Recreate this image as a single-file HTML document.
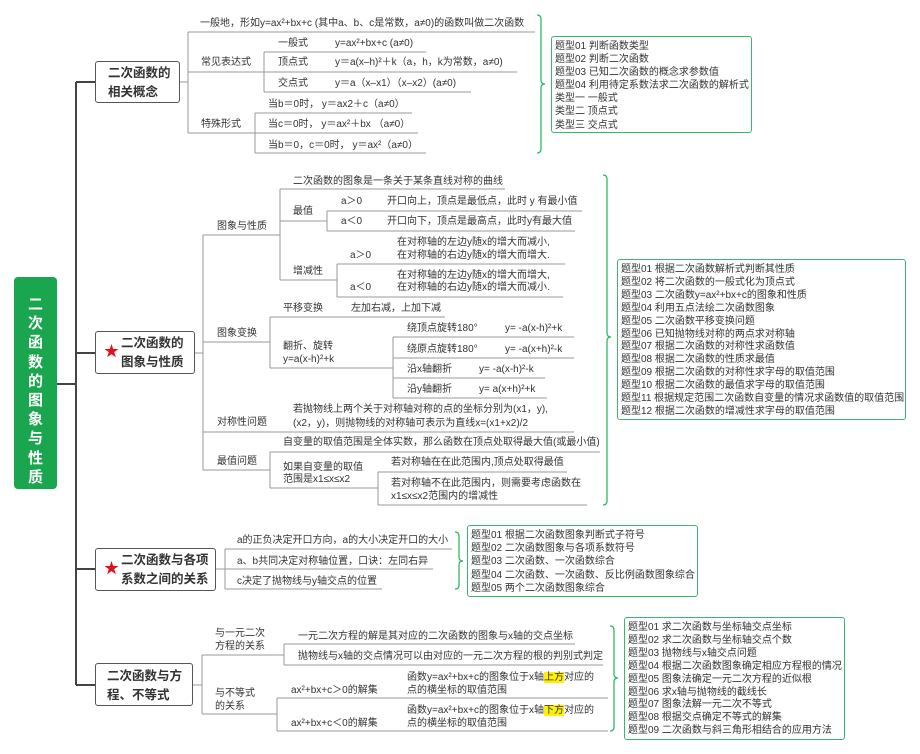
<!DOCTYPE html>
<html><head><meta charset="utf-8">
<style>
html,body{margin:0;padding:0;background:#fff;}
#c{position:relative;width:920px;height:754px;overflow:hidden;font-family:"Liberation Sans","Noto Sans CJK SC",sans-serif;color:#333;}
.t{position:absolute;font-size:10px;line-height:14px;white-space:nowrap;}
.box{position:absolute;border:1.3px solid #555;border-radius:3px;background:#fff;box-sizing:border-box;font-weight:bold;font-size:12.5px;line-height:19px;color:#333;}
.gb{position:absolute;border:1.3px solid #3cb86a;border-radius:3px;box-sizing:border-box;font-size:10px;line-height:13.1px;padding:3px 0 0 3px;white-space:nowrap;color:#333;}
.hl{background:#ffef00;}
</style></head><body><div id="c">
<svg width="920" height="754" style="position:absolute;left:0;top:0" fill="none">
<g stroke="#444" stroke-width="2">
<line x1="57" y1="384" x2="76" y2="384"/>
<line x1="76" y1="82" x2="76" y2="685"/>
<line x1="76" y1="82" x2="95" y2="82"/>
<line x1="76" y1="353" x2="95" y2="353"/>
<line x1="76" y1="569" x2="95" y2="569"/>
<line x1="76" y1="685" x2="95" y2="685"/>
</g>
<g stroke="#9a9a9a" stroke-width="1">
<!-- box1 -->
<line x1="180" y1="82" x2="188" y2="82"/>
<line x1="188" y1="32" x2="188" y2="133"/>
<line x1="188" y1="32" x2="535" y2="32"/>
<line x1="188" y1="72" x2="264" y2="72"/>
<line x1="264" y1="52" x2="264" y2="92"/>
<line x1="264" y1="52" x2="426" y2="52"/>
<line x1="264" y1="72" x2="517" y2="72"/>
<line x1="264" y1="92" x2="471" y2="92"/>
<line x1="188" y1="133" x2="255" y2="133"/>
<line x1="255" y1="113" x2="255" y2="153"/>
<line x1="255" y1="113" x2="412" y2="113"/>
<line x1="255" y1="133" x2="418" y2="133"/>
<line x1="255" y1="153" x2="426" y2="153"/>
<!-- box2 -->
<line x1="195" y1="353" x2="203" y2="353"/>
<line x1="203" y1="235" x2="203" y2="470"/>
<line x1="203" y1="235" x2="280" y2="235"/>
<line x1="280" y1="189" x2="280" y2="280"/>
<line x1="280" y1="189" x2="505" y2="189"/>
<line x1="280" y1="221" x2="327" y2="221"/>
<line x1="327" y1="211" x2="327" y2="231"/>
<line x1="327" y1="211" x2="582" y2="211"/>
<line x1="327" y1="231" x2="575" y2="231"/>
<line x1="280" y1="280" x2="337" y2="280"/>
<line x1="337" y1="264" x2="337" y2="297"/>
<line x1="337" y1="264" x2="565" y2="264"/>
<line x1="337" y1="297" x2="563" y2="297"/>
<line x1="203" y1="342" x2="270" y2="342"/>
<line x1="270" y1="317" x2="270" y2="368"/>
<line x1="270" y1="317" x2="445" y2="317"/>
<line x1="270" y1="368" x2="393" y2="368"/>
<line x1="393" y1="337" x2="393" y2="398"/>
<line x1="393" y1="337" x2="574" y2="337"/>
<line x1="393" y1="358" x2="574" y2="358"/>
<line x1="393" y1="378" x2="545" y2="378"/>
<line x1="393" y1="398" x2="547" y2="398"/>
<line x1="203" y1="432" x2="574" y2="432"/>
<line x1="203" y1="470" x2="270" y2="470"/>
<line x1="270" y1="452" x2="270" y2="488"/>
<line x1="270" y1="452" x2="600" y2="452"/>
<line x1="270" y1="488" x2="378" y2="488"/>
<line x1="378" y1="472" x2="378" y2="505"/>
<line x1="378" y1="472" x2="567" y2="472"/>
<line x1="378" y1="505" x2="587" y2="505"/>
<!-- box3 -->
<line x1="216" y1="569" x2="225" y2="569"/>
<line x1="225" y1="549" x2="225" y2="589"/>
<line x1="225" y1="549" x2="452" y2="549"/>
<line x1="225" y1="569" x2="433" y2="569"/>
<line x1="225" y1="589" x2="382" y2="589"/>
<!-- box4 -->
<line x1="193" y1="685" x2="202" y2="685"/>
<line x1="202" y1="655" x2="202" y2="714"/>
<line x1="202" y1="655" x2="284" y2="655"/>
<line x1="284" y1="644" x2="284" y2="665"/>
<line x1="284" y1="644" x2="575" y2="644"/>
<line x1="284" y1="665" x2="603" y2="665"/>
<line x1="202" y1="714" x2="277" y2="714"/>
<line x1="277" y1="698" x2="277" y2="731"/>
<line x1="277" y1="698" x2="608" y2="698"/>
<line x1="277" y1="731" x2="608" y2="731"/>
</g>
<g stroke="#2fb864" stroke-width="1.3">
<path d="M537 15 Q541 15 541 19 L541 80 Q541 84 545 84 Q541 84 541 88 L541 149 Q541 153 537 153"/>
<path d="M603 175 Q607 175 607 179 L607 333 Q607 337 611 337 Q607 337 607 341 L607 501 Q607 505 603 505"/>
<path d="M455 532 Q459 532 459 536 L459 557 Q459 561 463 561 Q459 561 459 565 L459 585 Q459 589 455 589"/>
<path d="M610 626 Q614 626 614 630 L614 674 Q614 678 618 678 Q614 678 614 682 L614 727 Q614 731 610 731"/>
</g>
</svg>

<div style="position:absolute;left:14px;top:277px;width:43px;height:212px;background:#1aa64e;border-radius:4px;color:#fff;font-weight:bold;font-size:15px;line-height:19.2px;text-align:center;padding-top:18px;box-sizing:border-box;">二<br>次<br>函<br>数<br>的<br>图<br>象<br>与<br>性<br>质</div>

<div class="box" style="left:95px;top:61px;width:85px;height:42px;padding:2px 0 0 12px;">二次函数的<br>相关概念</div>
<div class="box" style="left:95px;top:331px;width:100px;height:43px;padding:2px 0 0 25px;">二次函数的<br>图象与性质</div>
<div class="box" style="left:95px;top:548px;width:121px;height:43px;padding:2px 0 0 25px;">二次函数与各项<br>系数之间的关系</div>
<div class="box" style="left:95px;top:663px;width:98px;height:43px;padding:3px 0 0 11px;">二次函数与方<br>程、不等式</div>
<div style="position:absolute;left:104px;top:344px;color:#e0101e;font-size:15px;line-height:16px;">★</div>
<div style="position:absolute;left:104px;top:561px;color:#e0101e;font-size:15px;line-height:16px;">★</div>

<!-- box1 texts -->
<div class="t" style="left:200px;top:17px">一般地，形如y=ax²+bx+c (其中a、b、c是常数，a≠0)的函数叫做二次函数</div>
<div class="t" style="left:201px;top:56px">常见表达式</div>
<div class="t" style="left:278px;top:37px">一般式</div>
<div class="t" style="left:335px;top:37px">y=ax²+bx+c (a≠0)</div>
<div class="t" style="left:278px;top:56px">顶点式</div>
<div class="t" style="left:335px;top:56px">y＝a(x–h)²＋k（a，h，k为常数，a≠0)</div>
<div class="t" style="left:278px;top:77px">交点式</div>
<div class="t" style="left:335px;top:77px">y＝a（x–x1）（x–x2）(a≠0)</div>
<div class="t" style="left:201px;top:118px">特殊形式</div>
<div class="t" style="left:268px;top:98px">当b＝0时， y＝ax2＋c（a≠0）</div>
<div class="t" style="left:268px;top:118px">当c＝0时， y＝ax²＋bx （a≠0）</div>
<div class="t" style="left:268px;top:139px">当b＝0，c＝0时， y＝ax²（a≠0）</div>
<div class="gb" style="left:551px;top:36px;width:201px;height:97px;">题型01 判断函数类型<br>题型02 判断二次函数<br>题型03 已知二次函数的概念求参数值<br>题型04 利用待定系数法求二次函数的解析式<br>类型一 一般式<br>类型二 顶点式<br>类型三 交点式</div>

<!-- box2 texts -->
<div class="t" style="left:217px;top:220px">图象与性质</div>
<div class="t" style="left:293px;top:175px">二次函数的图象是一条关于某条直线对称的曲线</div>
<div class="t" style="left:293px;top:205px">最值</div>
<div class="t" style="left:341px;top:195px">a＞0</div>
<div class="t" style="left:387px;top:195px">开口向上，顶点是最低点，此时 y 有最小值</div>
<div class="t" style="left:341px;top:215px">a＜0</div>
<div class="t" style="left:387px;top:215px">开口向下，顶点是最高点，此时y有最大值</div>
<div class="t" style="left:293px;top:265px">增减性</div>
<div class="t" style="left:350px;top:249px">a＞0</div>
<div class="t" style="left:397px;top:236px">在对称轴的左边y随x的增大而减小,</div>
<div class="t" style="left:397px;top:249px">在对称轴的右边y随x的增大而增大.</div>
<div class="t" style="left:350px;top:281px">a＜0</div>
<div class="t" style="left:397px;top:269px">在对称轴的左边y随x的增大而增大,</div>
<div class="t" style="left:397px;top:281px">在对称轴的右边y随x的增大而减小.</div>
<div class="t" style="left:217px;top:327px">图象变换</div>
<div class="t" style="left:283px;top:302px">平移变换</div>
<div class="t" style="left:351px;top:302px">左加右减，上加下减</div>
<div class="t" style="left:283px;top:340px">翻折、旋转</div>
<div class="t" style="left:283px;top:353px">y=a(x-h)²+k</div>
<div class="t" style="left:407px;top:322px">绕顶点旋转180°</div>
<div class="t" style="left:505px;top:322px">y= -a(x-h)²+k</div>
<div class="t" style="left:407px;top:343px">绕原点旋转180°</div>
<div class="t" style="left:505px;top:343px">y= -a(x+h)²-k</div>
<div class="t" style="left:407px;top:363px">沿x轴翻折</div>
<div class="t" style="left:479px;top:363px">y= -a(x-h)²-k</div>
<div class="t" style="left:407px;top:383px">沿y轴翻折</div>
<div class="t" style="left:479px;top:383px">y= a(x+h)²+k</div>
<div class="t" style="left:217px;top:416px">对称性问题</div>
<div class="t" style="left:293px;top:403px">若抛物线上两个关于对称轴对称的点的坐标分别为(x1，y),</div>
<div class="t" style="left:293px;top:417px">(x2，y)，则抛物线的对称轴可表示为直线x=(x1+x2)/2</div>
<div class="t" style="left:217px;top:455px">最值问题</div>
<div class="t" style="left:283px;top:436px">自变量的取值范围是全体实数，那么函数在顶点处取得最大值(或最小值)</div>
<div class="t" style="left:283px;top:461px">如果自变量的取值</div>
<div class="t" style="left:283px;top:473px">范围是x1≤x≤x2</div>
<div class="t" style="left:391px;top:456px">若对称轴在在此范围内,顶点处取得最值</div>
<div class="t" style="left:391px;top:477px">若对称轴不在此范围内，则需要考虑函数在</div>
<div class="t" style="left:391px;top:490px">x1≤x≤x2范围内的增减性</div>
<div class="gb" style="left:617px;top:259px;width:289px;height:161px;line-height:12.9px;padding-top:4px;">题型01 根据二次函数解析式判断其性质<br>题型02 将二次函数的一般式化为顶点式<br>题型03 二次函数y=ax²+bx+c的图象和性质<br>题型04 利用五点法绘二次函数图象<br>题型05 二次函数平移变换问题<br>题型06 已知抛物线对称的两点求对称轴<br>题型07 根据二次函数的对称性求函数值<br>题型08 根据二次函数的性质求最值<br>题型09 根据二次函数的对称性求字母的取值范围<br>题型10 根据二次函数的最值求字母的取值范围<br>题型11 根据规定范围二次函数自变量的情况求函数值的取值范围<br>题型12 根据二次函数的增减性求字母的取值范围</div>

<!-- box3 texts -->
<div class="t" style="left:237px;top:534px">a的正负决定开口方向，a的大小决定开口的大小</div>
<div class="t" style="left:237px;top:555px">a、b共同决定对称轴位置，口诀：左同右异</div>
<div class="t" style="left:237px;top:575px">c决定了抛物线与y轴交点的位置</div>
<div class="gb" style="left:467px;top:525px;width:231px;height:72px;line-height:13.2px;padding-top:3px;">题型01 根据二次函数图象判断式子符号<br>题型02 二次函数图象与各项系数符号<br>题型03 二次函数、一次函数综合<br>题型04 二次函数、一次函数、反比例函数图象综合<br>题型05 两个二次函数图象综合</div>

<!-- box4 texts -->
<div class="t" style="left:215px;top:627px">与一元二次</div>
<div class="t" style="left:215px;top:640px">方程的关系</div>
<div class="t" style="left:298px;top:630px">一元二次方程的解是其对应的二次函数的图象与x轴的交点坐标</div>
<div class="t" style="left:298px;top:650px">抛物线与x轴的交点情况可以由对应的一元二次方程的根的判别式判定</div>
<div class="t" style="left:215px;top:687px">与不等式</div>
<div class="t" style="left:215px;top:700px">的关系</div>
<div class="t" style="left:291px;top:684px">ax²+bx+c＞0的解集</div>
<div class="t" style="left:407px;top:671px">函数y=ax²+bx+c的图象位于x轴<span class="hl">上方</span>对应的</div>
<div class="t" style="left:407px;top:684px">点的横坐标的取值范围</div>
<div class="t" style="left:291px;top:717px">ax²+bx+c＜0的解集</div>
<div class="t" style="left:407px;top:704px">函数y=ax²+bx+c的图象位于x轴<span class="hl">下方</span>对应的</div>
<div class="t" style="left:407px;top:717px">点的横坐标的取值范围</div>
<div class="gb" style="left:624px;top:617px;width:221px;height:123px;line-height:12.9px;padding-top:4px;">题型01 求二次函数与坐标轴交点坐标<br>题型02 求二次函数与坐标轴交点个数<br>题型03 抛物线与x轴交点问题<br>题型04 根据二次函数图象确定相应方程根的情况<br>题型05 图象法确定一元二次方程的近似根<br>题型06 求x轴与抛物线的截线长<br>题型07 图象法解一元二次不等式<br>题型08 根据交点确定不等式的解集<br>题型09 二次函数与斜三角形相结合的应用方法</div>
</div></body></html>
